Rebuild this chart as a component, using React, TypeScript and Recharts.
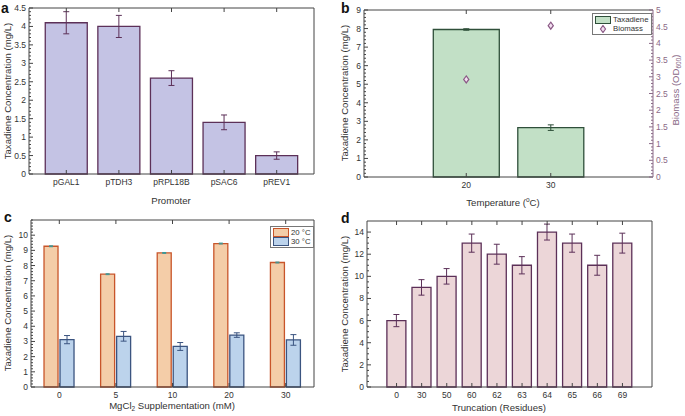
import React from 'react';
import { BarChart, ComposedChart, Bar, Line, XAxis, YAxis, ErrorBar, Legend } from 'recharts';

const FONT = '"Liberation Sans", Arial, Helvetica, sans-serif';
const FRAME = '#444';
const TEXT = '#333';
const TICK_FS = 8.5;

// a: promoter strength
const promoters = ['pGAL1', 'pTDH3', 'pRPL18B', 'pSAC6', 'pREV1'];
const promoterTiter = [4.1, 4.0, 2.6, 1.4, 0.5];
const promoterErr = [0.3, 0.3, 0.2, 0.2, 0.1];
const aTicks = [0, 0.5, 1, 1.5, 2, 2.5, 3, 3.5, 4, 4.5];

// b: temperature
const temps = ['20', '30'];
const tempTiter = [7.95, 2.66];
const tempErr = [0.04, 0.15];
const biomass = [2.92, 4.53];
const bLeftTicks = [0, 1, 2, 3, 4, 5, 6, 7, 8, 9];
const bRightTicks = [0, 0.5, 1, 1.5, 2, 2.5, 3, 3.5, 4, 4.5, 5];

// c: MgCl2 supplementation
const mgcl2 = ['0', '5', '10', '20', '30'];
const titer20 = [9.27, 7.43, 8.83, 9.45, 8.2];
const err20 = [0.03, 0.03, 0.03, 0.03, 0.03];
const titer30 = [3.12, 3.34, 2.67, 3.42, 3.1];
const err30 = [0.27, 0.32, 0.26, 0.15, 0.35];
const cTicks = [0, 1, 2, 3, 4, 5, 6, 7, 8, 9, 10];

// d: truncation
const truncations = ['0', '30', '50', '60', '62', '63', '64', '65', '66', '69'];
const truncTiter = [6, 9, 10, 13, 12, 11, 14, 13, 11, 13];
const truncErr = [0.55, 0.7, 0.7, 0.82, 0.9, 0.78, 0.72, 0.82, 0.9, 0.9];
const dTicks = [0, 2, 4, 6, 8, 10, 12, 14];

const aData = promoters.map((name, i) => ({ name, titer: promoterTiter[i], err: promoterErr[i] }));
const bData = temps.map((name, i) => ({ name, titer: tempTiter[i], err: tempErr[i], bio: biomass[i] }));
const cData = mgcl2.map((name, i) => ({ name, t20: titer20[i], e20: err20[i], t30: titer30[i], e30: err30[i] }));
const dData = truncations.map((name, i) => ({ name, titer: truncTiter[i], err: truncErr[i] }));

// minor ticks between the labelled ones
function withMinor(major: number[], per: number) {
  const out: number[] = [];
  for (let i = 0; i < major.length - 1; i++) {
    const step = (major[i + 1] - major[i]) / per;
    for (let k = 0; k < per; k++) out.push(Math.round((major[i] + k * step) * 1000) / 1000);
  }
  out.push(major[major.length - 1]);
  return out;
}

type Side = 'left' | 'right' | 'top' | 'bottom';

function FrameTick(props: any) {
  const { x = 0, y = 0, payload, side, majors, label, color } = props as {
    x: number; y: number; payload: any; side: Side; majors?: number[]; label?: boolean; color?: string;
  };
  const v = payload?.value;
  const major = !majors || majors.includes(v);
  const len = major ? 4 : 2;
  const c = color || FRAME;
  let line;
  if (side === 'left') line = <line x1={x} y1={y} x2={x + len} y2={y} stroke={c} />;
  else if (side === 'right') line = <line x1={x} y1={y} x2={x - len} y2={y} stroke={c} />;
  else if (side === 'bottom') line = <line x1={x} y1={y} x2={x} y2={y - len} stroke={c} />;
  else line = <line x1={x} y1={y} x2={x} y2={y + len} stroke={c} />;
  let text = null;
  if (label && major) {
    const tc = color || TEXT;
    if (side === 'left') text = <text x={x - 3} y={y + 3} textAnchor="end" fontSize={TICK_FS} fill={tc}>{v}</text>;
    else if (side === 'right') text = <text x={x + 3} y={y + 3} textAnchor="start" fontSize={TICK_FS} fill={tc}>{v}</text>;
    else if (side === 'bottom') text = <text x={x} y={y + 11} textAnchor="middle" fontSize={TICK_FS} fill={tc}>{v}</text>;
  }
  return <g>{line}{text}</g>;
}

const tick = (side: Side, label: boolean, majors?: number[], color?: string) =>
  (p: any) => <FrameTick {...p} side={side} label={label} majors={majors} color={color} />;

const axisLine = { stroke: FRAME, strokeWidth: 1 };

function Title({ x, y, rotate, color, children }: { x: number; y: number; rotate?: boolean; color?: string; children: React.ReactNode }) {
  return (
    <div style={{
      position: 'absolute', left: x, top: y, whiteSpace: 'nowrap', fontSize: 9.6, color: color || TEXT,
      transform: `translate(-50%, -50%)${rotate ? ' rotate(-90deg)' : ''}`, lineHeight: '11px',
    }}>{children}</div>
  );
}

function Letter({ x, y, children }: { x: number; y: number; children: string }) {
  return <div style={{ position: 'absolute', left: x, top: y, fontSize: 14, fontWeight: 700, lineHeight: '14px', color: '#111' }}>{children}</div>;
}

const legendBox = (items: { label: React.ReactNode; swatch: React.ReactNode }[]) => () => (
  <div style={{ border: '1px solid #777', background: '#fff', padding: '1px 2px', fontSize: 7.8, fontFamily: FONT, color: TEXT, lineHeight: '9px' }}>
    {items.map((it, i) => (
      <div key={i} style={{ display: 'flex', alignItems: 'center', gap: 2, height: 9 }}>
        {it.swatch}<span>{it.label}</span>
      </div>
    ))}
  </div>
);

const Diamond = (props: any) => {
  const { cx, cy } = props;
  if (cx == null || cy == null) return null;
  return <path d={`M${cx},${cy - 3.5} L${cx + 2.6},${cy} L${cx},${cy + 3.5} L${cx - 2.6},${cy} Z`} fill="#f2dff0" stroke="#8b5a86" strokeWidth={1.2} />;
};

export default function App() {
  const aMinor = withMinor(aTicks, 5);
  const bMinor = withMinor(bLeftTicks, 5);
  const bRMinor = withMinor(bRightTicks, 5);
  const cMinor = withMinor([...cTicks, 11], 5);
  const dMinor = withMinor(dTicks, 4);

  return (
    <div style={{ position: 'absolute', left: 0, top: 0, width: 685, height: 416, background: '#fff', fontFamily: FONT }}>
      {/* a */}
      <div style={{ position: 'absolute', left: 0, top: 0 }}>
        <BarChart width={340} height={210} data={aData} barCategoryGap="10%" margin={{ top: 7, right: 25, bottom: 16, left: 5 }}>
          <XAxis dataKey="name" height={20} padding={{ left: 11, right: 11 }} tickSize={0} tickMargin={0} interval={0} tickLine={false} axisLine={axisLine} tick={tick('bottom', true)} />
          <XAxis xAxisId="top" orientation="top" dataKey="name" height={1} padding={{ left: 11, right: 11 }} tickSize={0} tickMargin={0} interval={0} tickLine={false} axisLine={axisLine} tick={tick('top', false)} />
          <YAxis width={24} domain={[0, 4.5]} ticks={aMinor} type="number" tickSize={0} tickMargin={0} interval={0} tickLine={false} axisLine={axisLine} tick={tick('left', true, aTicks)} />
          <YAxis yAxisId="r" orientation="right" width={1} domain={[0, 4.5]} ticks={aMinor} type="number" tickSize={0} tickMargin={0} interval={0} tickLine={false} axisLine={axisLine} tick={tick('right', false, aTicks)} />
          <Bar dataKey="titer" fill="#c4c3e4" stroke="#5c3058" strokeWidth={1.3} isAnimationActive={false}>
            <ErrorBar dataKey="err" width={3} stroke="#5c3058" strokeWidth={1} />
          </Bar>
        </BarChart>
        <Letter x={1} y={1}>a</Letter>
        <Title x={7} y={91} rotate>Taxadiene Concentration (mg/L)</Title>
        <Title x={171} y={200}>Promoter</Title>
      </div>

      {/* b */}
      <div style={{ position: 'absolute', left: 340, top: 0, width: 345, height: 210 }}>
        <ComposedChart width={345} height={210} data={bData} barCategoryGap="11%" margin={{ top: 9, right: 2, bottom: 13, left: 4 }}>
          <XAxis dataKey="name" height={20} padding={{ left: 60, right: 60 }} tickSize={0} tickMargin={0} interval={0} tickLine={false} axisLine={axisLine} tick={tick('bottom', true)} />
          <XAxis xAxisId="top" orientation="top" dataKey="name" height={1} padding={{ left: 60, right: 60 }} tickSize={0} tickMargin={0} interval={0} tickLine={false} axisLine={axisLine} tick={tick('top', false)} />
          <YAxis width={20} domain={[0, 9]} ticks={bMinor} type="number" tickSize={0} tickMargin={0} interval={0} tickLine={false} axisLine={axisLine} tick={tick('left', true, bLeftTicks)} />
          <YAxis yAxisId="r" orientation="right" width={30} domain={[0, 5]} ticks={bRMinor} type="number" tickSize={0} tickMargin={0} interval={0} tickLine={false} axisLine={{ stroke: '#8b6a88' }} tick={tick('right', true, bRightTicks, '#8b6a88')} />
          <Bar dataKey="titer" name="Taxadiene" fill="#c2e0c6" stroke="#2f4f3a" strokeWidth={1.3} isAnimationActive={false}>
            <ErrorBar dataKey="err" width={3} stroke="#2f4f3a" strokeWidth={1} />
          </Bar>
          <Line yAxisId="r" dataKey="bio" name="Biomass" stroke="none" dot={<Diamond />} activeDot={false} isAnimationActive={false} />
          <Legend layout="vertical" verticalAlign="middle" align="center"
            wrapperStyle={{ left: 252, top: 13, width: 'auto' }}
            content={legendBox([
              { label: 'Taxadiene', swatch: <span style={{ display: 'inline-block', width: 14, height: 6, background: '#c2e0c6', border: '1px solid #2f4f3a' }} /> },
              { label: 'Biomass', swatch: <svg width={16} height={8}><path d="M8,0.5 L10.5,4 L8,7.5 L5.5,4 Z" fill="#f2dff0" stroke="#8b5a86" strokeWidth={1.2} /></svg> },
            ])} />
        </ComposedChart>
        <Letter x={1} y={1}>b</Letter>
        <Title x={4} y={93} rotate>Taxadiene Concentration (mg/L)</Title>
        <Title x={337} y={90} rotate color="#8b6a88">Biomass (OD<sub style={{ fontSize: 6.5 }}>600</sub>)</Title>
        <Title x={163} y={201}>Temperature (<sup style={{ fontSize: 6.5 }}>o</sup>C)</Title>
      </div>

      {/* c */}
      <div style={{ position: 'absolute', left: 0, top: 200, width: 340, height: 216 }}>
        <BarChart width={340} height={216} data={cData} barCategoryGap="23%" barGap={2} margin={{ top: 19, right: 25, bottom: 9, left: 7 }}>
          <XAxis dataKey="name" height={20} tickSize={0} tickMargin={0} interval={0} tickLine={false} axisLine={axisLine} tick={tick('bottom', true)} />
          <XAxis xAxisId="top" orientation="top" dataKey="name" height={1} tickSize={0} tickMargin={0} interval={0} tickLine={false} axisLine={axisLine} tick={tick('top', false)} />
          <YAxis width={24} domain={[0, 11]} ticks={cMinor} type="number" tickSize={0} tickMargin={0} interval={0} tickLine={false} axisLine={axisLine} tick={tick('left', true, cTicks)} />
          <YAxis yAxisId="r" orientation="right" width={1} domain={[0, 11]} ticks={cMinor} type="number" tickSize={0} tickMargin={0} interval={0} tickLine={false} axisLine={axisLine} tick={tick('right', false, cTicks)} />
          <Bar dataKey="t20" name="20 °C" fill="#f4cda8" stroke="#c8552a" strokeWidth={1.3} isAnimationActive={false}>
            <ErrorBar dataKey="e20" width={2} stroke="#3a9a9a" strokeWidth={1} />
          </Bar>
          <Bar dataKey="t30" name="30 °C" fill="#bcd3ec" stroke="#3b5480" strokeWidth={1.3} isAnimationActive={false}>
            <ErrorBar dataKey="e30" width={3} stroke="#3b5480" strokeWidth={1} />
          </Bar>
          <Legend layout="vertical" verticalAlign="middle" align="center"
            wrapperStyle={{ left: 270, top: 26, width: 'auto' }}
            content={legendBox([
              { label: '20 °C', swatch: <span style={{ display: 'inline-block', width: 14, height: 7, background: '#f4cda8', border: '1px solid #c8552a' }} /> },
              { label: '30 °C', swatch: <span style={{ display: 'inline-block', width: 14, height: 7, background: '#bcd3ec', border: '1px solid #3b5480' }} /> },
            ])} />
        </BarChart>
        <Letter x={4} y={10}>c</Letter>
        <Title x={7} y={103} rotate>Taxadiene Concentration (mg/L)</Title>
        <Title x={172} y={207}>MgCl<sub style={{ fontSize: 6.5 }}>2</sub> Supplementation (mM)</Title>
      </div>

      {/* d */}
      <div style={{ position: 'absolute', left: 340, top: 200, width: 345, height: 216 }}>
        <BarChart width={345} height={216} data={dData} barCategoryGap="11.5%" margin={{ top: 20, right: 32, bottom: 9, left: 5 }}>
          <XAxis dataKey="name" height={20} padding={{ left: 17, right: 17 }} tickSize={0} tickMargin={0} interval={0} tickLine={false} axisLine={axisLine} tick={tick('bottom', true)} />
          <XAxis xAxisId="top" orientation="top" dataKey="name" height={1} padding={{ left: 17, right: 17 }} tickSize={0} tickMargin={0} interval={0} tickLine={false} axisLine={axisLine} tick={tick('top', false)} />
          <YAxis width={22} domain={[0, 15]} ticks={dMinor} type="number" tickSize={0} tickMargin={0} interval={0} tickLine={false} axisLine={axisLine} tick={tick('left', true, dTicks)} />
          <YAxis yAxisId="r" orientation="right" width={1} domain={[0, 15]} ticks={dMinor} type="number" tickSize={0} tickMargin={0} interval={0} tickLine={false} axisLine={axisLine} tick={tick('right', false, dTicks)} />
          <Bar dataKey="titer" fill="#ecd6d8" stroke="#5c3058" strokeWidth={1.3} isAnimationActive={false}>
            <ErrorBar dataKey="err" width={3} stroke="#5c3058" strokeWidth={1} />
          </Bar>
        </BarChart>
        <Letter x={1} y={11}>d</Letter>
        <Title x={4} y={104} rotate>Taxadiene Concentration (mg/L)</Title>
        <Title x={159} y={207}>Truncation (Residues)</Title>
      </div>
    </div>
  );
}
